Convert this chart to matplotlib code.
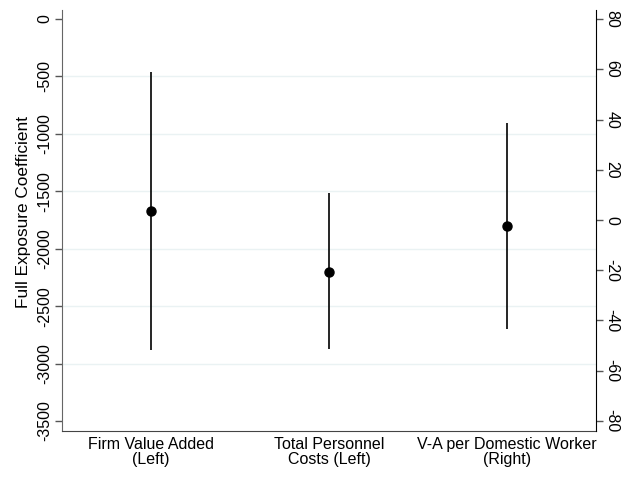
import matplotlib.pyplot as plt
import numpy as np

plt.rcParams['font.family'] = ['Liberation Sans', 'DejaVu Sans']

# coefficient estimates with confidence bounds
labels = ["Firm Value Added\n(Left)", "Total Personnel\nCosts (Left)", "V-A per Domestic Worker\n(Right)"]
left_coef = [-1672, -2200]
left_lo = [-2882, -2876]
left_hi = [-459, -1518]
right_coef = [-2.4]
right_lo = [-43.4]
right_hi = [38.5]

left_ticks = [0, -500, -1000, -1500, -2000, -2500, -3000, -3500]
right_ticks = [80, 60, 40, 20, 0, -20, -40, -60, -80]

fig = plt.figure(figsize=(6.4, 4.92), dpi=100)
ax = fig.add_axes([0.0969, 0.124, 0.8344, 0.8557])
ax2 = ax.twinx()

x_left = np.array([1, 2])
x_right = np.array([3])

ax.vlines(x_left, left_lo, left_hi, color="black", lw=1.2)
ax.plot(x_left, left_coef, "o", color="black", ms=6.5)
ax2.vlines(x_right, right_lo, right_hi, color="black", lw=1.2)
ax2.plot(x_right, right_coef, "o", color="black", ms=6.5)

ax.set_xlim(0.5, 3.5)
ax.set_ylim(-3587, 78)
ax2.set_ylim(-84, 83.6)

ax.set_yticks(left_ticks)
ax.set_yticklabels([str(t) for t in left_ticks], rotation=90, va="center")
ax2.set_yticks(right_ticks)
ax2.set_yticklabels([str(t) for t in right_ticks], rotation=-90, va="center")

# grid only on inner ticks
for t in left_ticks[1:-1]:
    ax.axhline(t, color="#eaf2f3", lw=1, zorder=0)

ax.set_xticks([1, 2, 3])
ax.set_xticklabels(labels, fontsize=11.5, linespacing=1.05)
ax.tick_params(axis="x", length=0, pad=4)
ax.tick_params(axis="y", labelsize=11.5, length=5, width=1, color="#555555", pad=2)
ax2.tick_params(axis="y", labelsize=11.5, length=5, width=1, color="#555555", pad=1)

ax.set_ylabel("Full Exposure Coefficient", fontsize=12.4)
ax.yaxis.set_label_coords(-0.058, 0.519)

for a in (ax, ax2):
    a.spines["top"].set_visible(False)
ax.spines["right"].set_visible(False)
ax2.spines["left"].set_visible(False)
ax2.spines["bottom"].set_visible(False)
ax.spines["left"].set_color("#666666")
ax.spines["bottom"].set_color("#444444")
ax2.spines["right"].set_color("black")

fig.savefig("out.png", dpi=100)
